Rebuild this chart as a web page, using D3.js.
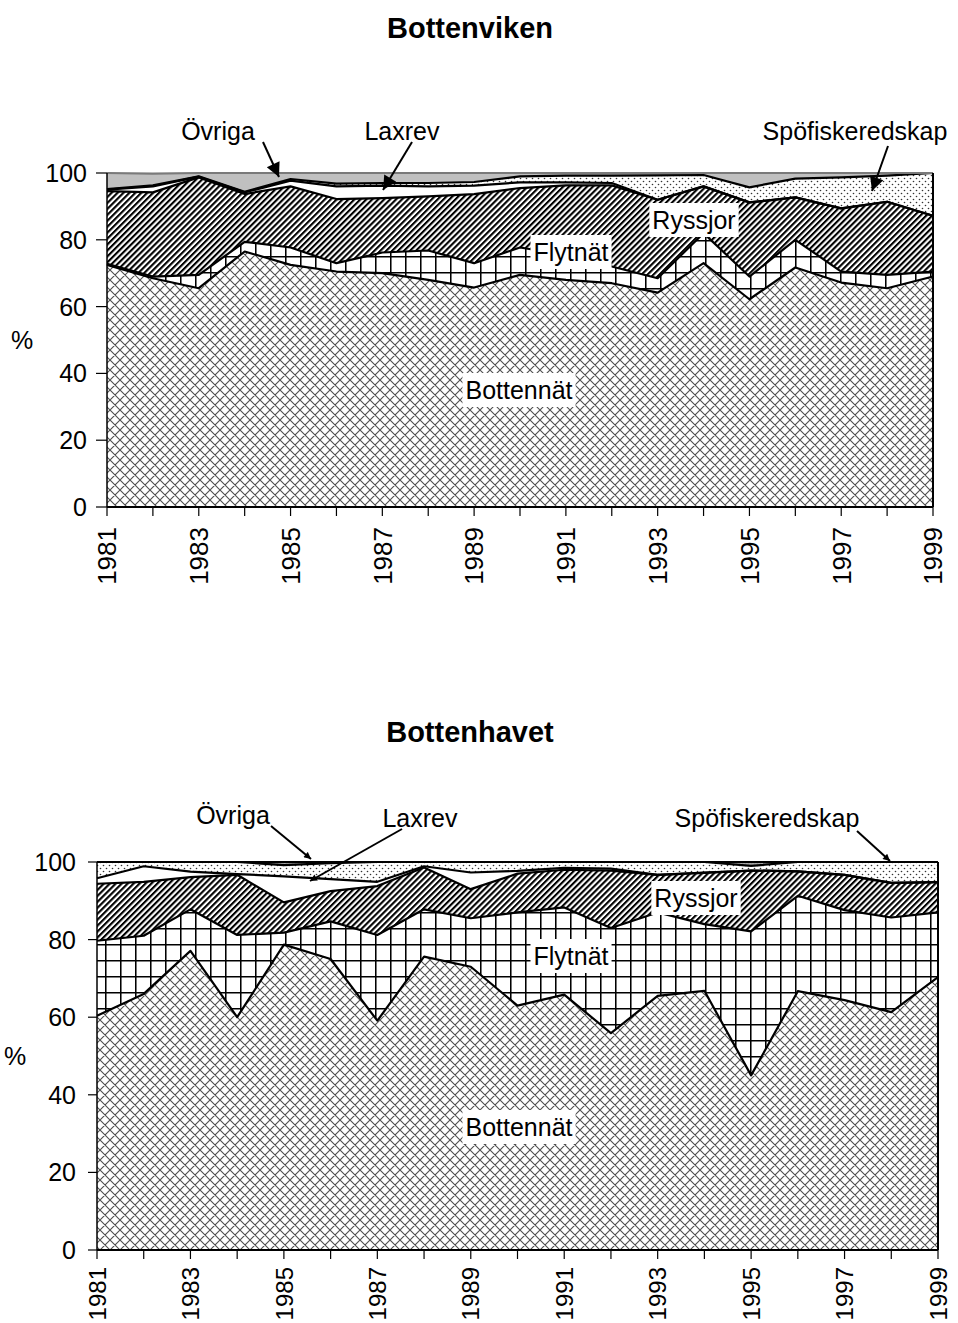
<!DOCTYPE html>
<html>
<head>
<meta charset="utf-8">
<script src="https://cdn.jsdelivr.net/npm/d3@7"></script>
<style>
  body { margin: 0; background: #fff; }
  svg text { font-family: "Liberation Sans", Arial, sans-serif; fill: #000; }
</style>
</head>
<body>
<svg id="chart" width="958" height="1323"></svg>
<script>
// Years and series names
const years = [1981, 1982, 1983, 1984, 1985, 1986, 1987, 1988, 1989, 1990,
               1991, 1992, 1993, 1994, 1995, 1996, 1997, 1998, 1999];
const seriesNames = ["Bottennät", "Flytnät", "Ryssjor", "Laxrev", "Spöfiskeredskap", "Övriga"];
const yTicks = [0, 20, 40, 60, 80, 100];
const xLabelYears = [1981, 1983, 1985, 1987, 1989, 1991, 1993, 1995, 1997, 1999];

// Bottenviken, share of catch (%) per gear
const vikenBottennat = [72.5, 68.5, 65.5, 76.5, 72.5, 70.5, 70.0, 68.0, 65.7, 69.5, 68.0, 67.0, 64.2, 73.0, 62.2, 71.7, 67.2, 65.5, 69.0];
const vikenFlytnat   = [0.3, 0.5, 4.0, 2.9, 5.2, 2.5, 6.2, 8.8, 7.3, 8.2, 7.5, 5.0, 4.3, 9.0, 6.8, 8.3, 3.3, 4.0, 1.5];
const vikenRyssjor   = [21.8, 25.2, 29.2, 14.3, 18.3, 19.2, 16.3, 16.2, 20.7, 17.8, 20.8, 24.3, 23.5, 14.0, 22.2, 12.7, 18.9, 21.9, 16.7];
const vikenLaxrev    = [0.4, 1.8, 0.2, 0.5, 1.7, 3.8, 3.7, 3.0, 2.5, 1.7, 0.9, 0.7, 0, 0, 0, 0, 0, 0, 0];
const vikenSpo       = [0.2, 0.3, 0.1, 0.2, 0.5, 0.8, 0.8, 1.0, 1.1, 1.8, 2.0, 2.2, 7.3, 3.4, 4.5, 5.6, 9.3, 7.8, 12.8];
const vikenOvriga    = [4.8, 3.5, 1.0, 5.6, 1.8, 3.2, 3.0, 3.0, 2.7, 1.0, 0.8, 0.8, 0.7, 0.6, 4.3, 1.7, 1.3, 0.8, 0];

// Bottenhavet, share of catch (%) per gear
const havetBottennat = [60.4, 66.0, 77.1, 60.0, 78.7, 75.0, 59.1, 75.6, 73.0, 63.0, 65.8, 55.9, 65.5, 66.8, 45.0, 66.7, 64.4, 61.3, 70.3];
const havetFlytnat   = [19.3, 15.0, 10.7, 21.2, 3.1, 9.7, 22.1, 12.2, 12.5, 24.0, 22.5, 27.1, 21.5, 17.2, 37.1, 24.6, 23.2, 24.4, 16.7];
const havetRyssjor   = [14.7, 13.9, 8.3, 15.5, 7.8, 7.8, 12.6, 10.8, 7.5, 10.0, 9.7, 14.8, 9.7, 13.2, 15.7, 6.3, 9.1, 8.9, 7.8];
const havetLaxrev    = [1.4, 4.0, 1.4, 0.2, 6.7, 3.1, 1.1, 0.3, 4.3, 0.7, 0.5, 0.5, 0, 0.1, 0, 0, 0, 0, 0];
const havetSpo       = [4.2, 1.1, 2.5, 3.1, 2.9, 4.1, 5.1, 1.1, 2.7, 2.3, 1.5, 1.7, 3.3, 2.7, 1.2, 2.4, 3.3, 5.4, 5.2];
const havetOvriga    = [0, 0, 0, 0, 0.8, 0.3, 0, 0, 0, 0, 0, 0, 0, 0, 1.0, 0, 0, 0, 0];

const svg = d3.select("#chart");

// Patterns for the gear areas
const defs = svg.append("defs");

let pBot = defs.append("pattern").attr("id", "pBot")
    .attr("patternUnits", "userSpaceOnUse").attr("width", 10).attr("height", 10);
pBot.append("rect").attr("width", 10).attr("height", 10).attr("fill", "white");
pBot.append("path").attr("d", "M0,0L10,10M10,0L0,10M-1,9L1,11M9,-1L11,1M9,11L11,9M-1,1L1,-1")
    .attr("stroke", "#505050").attr("stroke-width", 1.1);

let pFly = defs.append("pattern").attr("id", "pFly")
    .attr("patternUnits", "userSpaceOnUse").attr("width", 15).attr("height", 16);
pFly.append("rect").attr("width", 15).attr("height", 16).attr("fill", "white");
pFly.append("path").attr("d", "M0.75,0V16M0,0.75H15")
    .attr("stroke", "black").attr("stroke-width", 1.6);

let pRys = defs.append("pattern").attr("id", "pRys")
    .attr("patternUnits", "userSpaceOnUse").attr("width", 4.2).attr("height", 10)
    .attr("patternTransform", "rotate(45)");
pRys.append("rect").attr("width", 4.2).attr("height", 10).attr("fill", "white");
pRys.append("rect").attr("width", 2.1).attr("height", 10).attr("fill", "black");

let pSpo = defs.append("pattern").attr("id", "pSpo")
    .attr("patternUnits", "userSpaceOnUse").attr("width", 6).attr("height", 6);
pSpo.append("rect").attr("width", 6).attr("height", 6).attr("fill", "white");
pSpo.append("circle").attr("cx", 1.5).attr("cy", 1.5).attr("r", 0.8).attr("fill", "#333");
pSpo.append("circle").attr("cx", 4.5).attr("cy", 4.5).attr("r", 0.8).attr("fill", "#333");

let pOvr = defs.append("pattern").attr("id", "pOvr")
    .attr("patternUnits", "userSpaceOnUse").attr("width", 3).attr("height", 3);
pOvr.append("rect").attr("width", 3).attr("height", 3).attr("fill", "#a8a8a8");
pOvr.append("circle").attr("cx", 1.5).attr("cy", 1.5).attr("r", 0.8).attr("fill", "#444");

// Arrow heads
defs.append("marker").attr("id", "headBig")
    .attr("viewBox", "0 0 10 10").attr("refX", 10).attr("refY", 5)
    .attr("markerUnits", "userSpaceOnUse").attr("markerWidth", 18).attr("markerHeight", 14)
    .attr("orient", "auto")
    .append("path").attr("d", "M0,0L10,5L0,10Z").attr("fill", "black");
defs.append("marker").attr("id", "headSmall")
    .attr("viewBox", "0 0 10 10").attr("refX", 10).attr("refY", 5)
    .attr("markerUnits", "userSpaceOnUse").attr("markerWidth", 9).attr("markerHeight", 7)
    .attr("orient", "auto")
    .append("path").attr("d", "M0,0L10,5L0,10Z").attr("fill", "black");

const fills = {
    "Bottennät": "url(#pBot)",
    "Flytnät": "url(#pFly)",
    "Ryssjor": "url(#pRys)",
    "Laxrev": "white",
    "Spöfiskeredskap": "url(#pSpo)"
};

// Panels
const panels = [
    {
        title: "Bottenviken", titleY: 28,
        left: 107, right: 933, top: 173, bottom: 507,
        tickLeft: 96, labelX: 87, pctX: 22,
        yearLabelY: 527, yearFont: 26,
        ovrFill: "#c0c0c0", topStroke: "#7a7a7a",
        series: [vikenBottennat, vikenFlytnat, vikenRyssjor, vikenLaxrev, vikenSpo, vikenOvriga],
        boxes: [["Ryssjor", 694, 220], ["Flytnät", 571, 252], ["Bottennät", 519, 390]],
        notes: [["Övriga", 218, 131, 263, 142, 279, 177],
                ["Laxrev", 402, 131, 412, 142, 383, 190],
                ["Spöfiskeredskap", 855, 131, 888, 146, 872, 191]],
        head: "headBig"
    },
    {
        title: "Bottenhavet", titleY: 732,
        left: 97, right: 938, top: 862, bottom: 1250,
        tickLeft: 88, labelX: 76, pctX: 15,
        yearLabelY: 1267, yearFont: 24,
        ovrFill: "url(#pOvr)", topStroke: "black",
        series: [havetBottennat, havetFlytnat, havetRyssjor, havetLaxrev, havetSpo, havetOvriga],
        boxes: [["Ryssjor", 696, 898], ["Flytnät", 571, 956], ["Bottennät", 519, 1127]],
        notes: [["Övriga", 233, 815, 271, 826, 311, 859],
                ["Laxrev", 420, 818, 402, 829, 310, 881],
                ["Spöfiskeredskap", 767, 818, 857, 831, 890, 861]],
        head: "headSmall"
    }
];

for (let p of panels) {

    // Scales
    let x = d3.scaleLinear().domain([years[0], years[years.length - 1]]).range([p.left, p.right]);
    let y = d3.scaleLinear().domain([0, 100]).range([p.bottom, p.top]);

    // Stack the series
    let rows = years.map((yr, i) => {
        let row = { year: yr };
        seriesNames.forEach((s, k) => row[s] = p.series[k][i]);
        return row;
    });
    let stacked = d3.stack().keys(seriesNames)(rows);

    let area = d3.area().x(d => x(d.data.year)).y0(d => y(d[0])).y1(d => y(d[1]));
    let topLine = d3.line().x(d => x(d.data.year)).y(d => y(d[1]));

    let g = svg.append("g");

    // Areas
    g.selectAll(".area")
        .data(stacked)
        .join("path")
        .attr("class", "area")
        .attr("d", area)
        .attr("fill", d => d.key == "Övriga" ? p.ovrFill : fills[d.key])
        .attr("stroke", "none");

    // Series border lines
    g.selectAll(".edge")
        .data(stacked)
        .join("path")
        .attr("class", "edge")
        .attr("d", topLine)
        .attr("fill", "none")
        .attr("stroke", d => d.key == "Övriga" ? p.topStroke : "black")
        .attr("stroke-width", 2.2)
        .attr("stroke-linejoin", "round");

    // Right edge of the areas
    g.append("line")
        .attr("x1", p.right).attr("x2", p.right)
        .attr("y1", p.top).attr("y2", p.bottom)
        .attr("stroke", "black").attr("stroke-width", 2);

    // Y axis
    g.append("line")
        .attr("x1", p.left).attr("x2", p.left)
        .attr("y1", p.top).attr("y2", p.bottom)
        .attr("stroke", "black").attr("stroke-width", 1.5);
    for (let t of yTicks) {
        g.append("line")
            .attr("x1", p.tickLeft).attr("x2", p.left)
            .attr("y1", y(t)).attr("y2", y(t))
            .attr("stroke", "black").attr("stroke-width", 1.2);
        g.append("text")
            .attr("x", p.labelX).attr("y", y(t)).attr("dy", "0.36em")
            .attr("text-anchor", "end")
            .attr("font-size", 25)
            .text(t);
    }
    g.append("text")
        .attr("x", p.pctX).attr("y", y(50)).attr("dy", "0.36em")
        .attr("text-anchor", "middle")
        .attr("font-size", 25)
        .text("%");

    // X axis
    g.append("line")
        .attr("x1", p.left).attr("x2", p.right)
        .attr("y1", p.bottom).attr("y2", p.bottom)
        .attr("stroke", "black").attr("stroke-width", 2);
    for (let yr of years) {
        g.append("line")
            .attr("x1", x(yr)).attr("x2", x(yr))
            .attr("y1", p.bottom).attr("y2", p.bottom + 9)
            .attr("stroke", "black").attr("stroke-width", 1.2);
    }
    for (let yr of xLabelYears) {
        g.append("text")
            .attr("transform", "translate(" + x(yr) + "," + p.yearLabelY + ") rotate(-90)")
            .attr("dy", "0.36em")
            .attr("text-anchor", "end")
            .attr("font-size", p.yearFont)
            .text(yr);
    }

    // Title
    g.append("text")
        .attr("x", 470).attr("y", p.titleY).attr("dy", "0.36em")
        .attr("text-anchor", "middle")
        .attr("font-size", 29).attr("font-weight", "bold")
        .text(p.title);

    // Boxed labels inside the areas
    for (let [label, cx, cy] of p.boxes) {
        let t = g.append("text")
            .attr("x", cx).attr("y", cy).attr("dy", "0.36em")
            .attr("text-anchor", "middle")
            .attr("font-size", 25)
            .text(label);
        let bb = t.node().getBBox();
        g.insert("rect", () => t.node())
            .attr("x", bb.x - 3).attr("y", bb.y - 3)
            .attr("width", bb.width + 6).attr("height", bb.height + 6)
            .attr("fill", "white");
    }

    // Annotations with arrows
    for (let [label, tx, ty, ax1, ay1, ax2, ay2] of p.notes) {
        g.append("text")
            .attr("x", tx).attr("y", ty).attr("dy", "0.36em")
            .attr("text-anchor", "middle")
            .attr("font-size", 25)
            .text(label);
        g.append("line")
            .attr("x1", ax1).attr("y1", ay1)
            .attr("x2", ax2).attr("y2", ay2)
            .attr("stroke", "black").attr("stroke-width", 2)
            .attr("marker-end", "url(#" + p.head + ")");
    }
}
</script>
</body>
</html>
